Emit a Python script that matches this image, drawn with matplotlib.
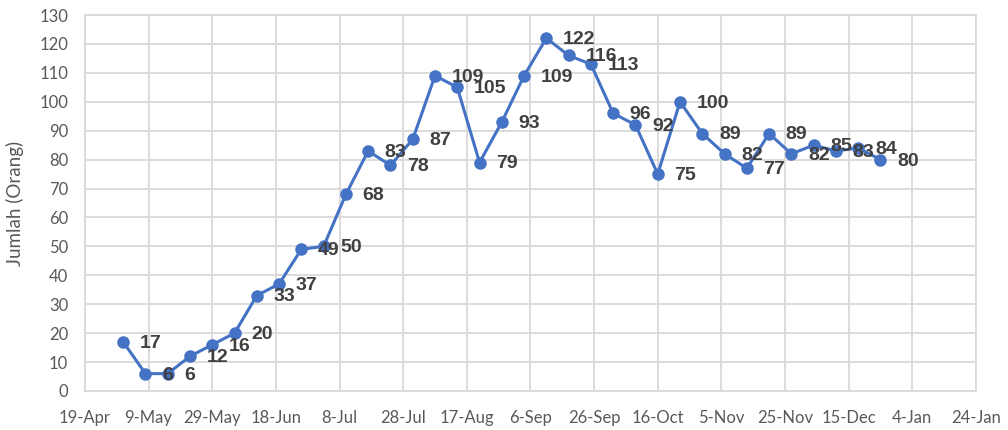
import matplotlib
matplotlib.use('Agg')
import matplotlib.pyplot as plt
import matplotlib.dates as mdates
import pandas as pd

# weekly data
tanggal = ['2020-05-01', '2020-05-08', '2020-05-15', '2020-05-22', '2020-05-29',
           '2020-06-05', '2020-06-12', '2020-06-19', '2020-06-26', '2020-07-03',
           '2020-07-10', '2020-07-17', '2020-07-24', '2020-07-31', '2020-08-07',
           '2020-08-14', '2020-08-21', '2020-08-28', '2020-09-04', '2020-09-11',
           '2020-09-18', '2020-09-25', '2020-10-02', '2020-10-09', '2020-10-16',
           '2020-10-23', '2020-10-30', '2020-11-06', '2020-11-13', '2020-11-20',
           '2020-11-27', '2020-12-04', '2020-12-11', '2020-12-18', '2020-12-25']
jumlah = [17, 6, 6, 12, 16, 20, 33, 37, 49, 50, 68, 83, 78, 87, 109, 105, 79, 93,
          109, 122, 116, 113, 96, 92, 75, 100, 89, 82, 77, 89, 82, 85, 83, 84, 80]

x_min = '2020-04-19'
x_max = '2021-01-24'

X = pd.to_datetime(tanggal)

fig = plt.figure(figsize=(10.08, 4.30), dpi=100)
ax = fig.add_axes([0.0843, 0.0907, 0.8839, 0.8744])

grid_col = '#d9d9d9'
tick_col = '#595959'
label_col = '#404040'

ax.plot(X, jumlah, color='#4472C4', linewidth=2.2, marker='o', markersize=8, zorder=3)

for xi, yi in zip(X, jumlah):
    ax.annotate(str(yi), (xi, yi), xytext=(12, -1), textcoords='offset points',
                ha='left', va='center', fontsize=14, fontweight='bold',
                color=label_col, family=['Liberation Sans Narrow', 'Liberation Sans', 'DejaVu Sans'],
                zorder=4)

ax.set_xlim(pd.Timestamp(x_min), pd.Timestamp(x_max))
ax.set_ylim(0, 130)
ax.set_yticks(range(0, 131, 10))
ticks = pd.date_range(x_min, x_max, freq='20D')
ax.set_xticks(ticks)
ax.xaxis.set_major_formatter(mdates.DateFormatter('%-d-%b'))

ax.grid(True, color=grid_col, linewidth=1.3)
ax.set_axisbelow(True)
for s in ax.spines.values():
    s.set_color(grid_col)
    s.set_linewidth(1.3)

ax.tick_params(length=0, colors=tick_col, labelsize=12)
ax.tick_params(axis='x', pad=14)
ax.tick_params(axis='y', pad=12)
for lab in ax.get_xticklabels() + ax.get_yticklabels():
    lab.set_family(['Lato', 'DejaVu Sans'])

ax.set_ylabel('Jumlah (Orang)', fontsize=13.5, color=tick_col, family=['Lato', 'DejaVu Sans'])
ax.yaxis.set_label_coords(-0.068, 0.5)

fig.savefig('out.png', dpi=100)
